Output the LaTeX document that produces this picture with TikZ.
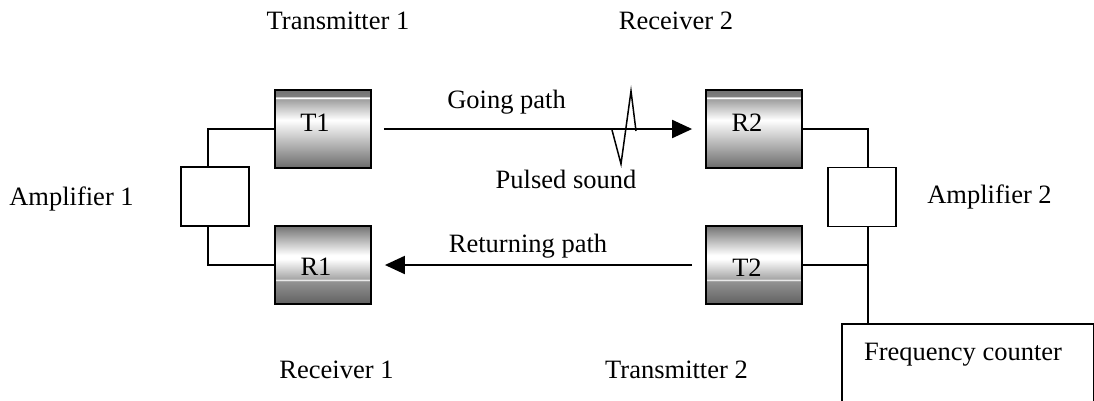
\documentclass[tikz,border=0pt]{standalone}
\usepackage{fontspec}
\setmainfont{Liberation Serif}
\usetikzlibrary{arrows.meta}
\pgfdeclareverticalshading{tshade}{100bp}{%
  color(0bp)=(black!58); color(25bp)=(black!58);
  color(55.8bp)=(white); color(69.2bp)=(black!38);
  color(69.5bp)=(white); color(70.3bp)=(white);
  color(70.6bp)=(black!50); color(75bp)=(black!55); color(100bp)=(black!55)}
\pgfdeclareverticalshading{rshade}{100bp}{%
  color(0bp)=(black!62); color(25bp)=(black!62);
  color(40bp)=(black!42); color(40.2bp)=(white); color(40.8bp)=(white);
  color(41.1bp)=(black!35); color(53.8bp)=(white); color(56.4bp)=(white);
  color(75bp)=(black!55); color(100bp)=(black!55)}
\tikzset{
  txt/.style={font=\fontsize{26.5}{30}\selectfont, inner sep=0pt, anchor=base},
  dev/.style={draw, line width=1.8pt, minimum width=96pt, minimum height=78pt, inner sep=0pt},
  tdev/.style={dev, shading=tshade},
  rdev/.style={dev, shading=rshade},
  ampbox/.style={draw, line width=1.5pt, fill=white, minimum width=68pt, minimum height=59pt, inner sep=0pt},
  wire/.style={line width=1.5pt},
  path/.style={line width=2pt, -{Triangle[length=20pt,width=18pt]}},
}
\begin{document}
\begin{tikzpicture}[x=1pt,y=-1pt]
\useasboundingbox (0,0) rectangle (1094,400);
% devices
\node[tdev] (T1) at (323,129) {};
\node[rdev] (R1) at (323,265) {};
\node[tdev] (R2) at (754,129) {};
\node[rdev] (T2) at (754,265) {};
\node[ampbox] (A1) at (215,196.5) {};
\node[ampbox] (A2) at (862,197) {};
\node[draw, line width=1.5pt, minimum width=252pt, minimum height=100pt, inner sep=0pt, anchor=north west] (FC) at (841,323) {};
% device labels
\node[txt] (t1) at ([xshift=-8pt,yshift=-2.7pt]T1.center) {T1};
\node[txt] (r1) at ([xshift=-7pt,yshift=-10.5pt]R1.center) {R1};
\node[txt] (r2) at ([xshift=-7pt,yshift=-2.7pt]R2.center) {R2};
\node[txt] (t2) at ([xshift=-7pt,yshift=-11pt]T2.center) {T2};
% wiring
\coordinate (a1t) at (208,0 |- A1.north);
\coordinate (a1b) at (208,0 |- A1.south);
\coordinate (a2t) at (868,0 |- A2.north);
\coordinate (a2b) at (868,0 |- A2.south);
\coordinate (fct) at (868,0 |- FC.north);
\draw[wire] (T1.west) -| (a1t);
\draw[wire] (a1b) |- (R1.west);
\draw[wire] (R2.east) -| (a2t);
\draw[wire] (a2b) -- (fct);
\draw[wire] (T2.east) -- (T2.east -| a2b);
% paths
\draw[path, shorten <=12pt, shorten >=13pt] (T1) -- (R2);
\draw[path, shorten <=13pt, shorten >=13pt] (T2) -- (R1);
\draw[line width=1.5pt, line join=miter] (612,130) -- (621,164) -- (631,91) -- (636,131);
% labels
\node[txt] (lT1) at (338,29) {Transmitter 1};
\node[txt] (lR2) at (676,29) {Receiver 2};
\node[txt] (lA1) at (71.5,205) {Amplifier 1};
\node[txt] (lA2) at (989.5,203) {Amplifier 2};
\node[txt] (lGo) at (506.5,108) {Going path};
\node[txt] (lPu) at (566,188) {Pulsed sound};
\node[txt] (lRe) at (528,252) {Returning path};
\node[txt] (lR1) at (336.5,378) {Receiver 1};
\node[txt] (lT2) at (676.5,378) {Transmitter 2};
\node[txt] (lFC) at (963,360) {Frequency counter};
\end{tikzpicture}
\end{document}
